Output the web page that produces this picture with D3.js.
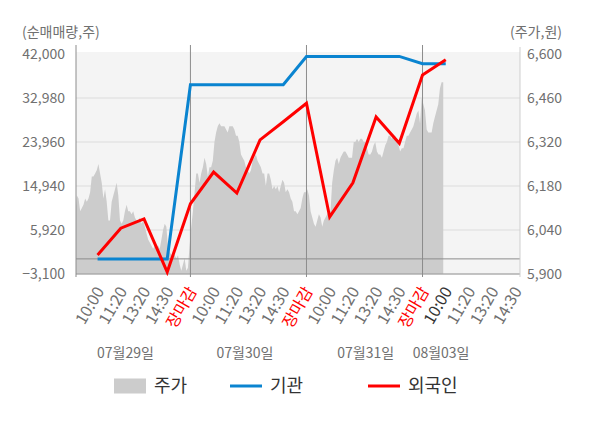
<!DOCTYPE html>
<html>
<head>
<meta charset="utf-8">
<script src="https://cdn.jsdelivr.net/npm/d3@7"></script>
<style>
    body { margin: 0; background: #fff; }
    svg { display: block; font-family: "Noto Sans CJK KR", "Noto Sans", sans-serif; }
</style>
</head>
<body>
<div id="chart"></div>
<script>
// 시간축 눈금 (하루 5칸, 마지막 날은 진행 중)
const tickLabels = ["10:00", "11:20", "13:20", "14:30", "장마감",
    "10:00", "11:20", "13:20", "14:30", "장마감",
    "10:00", "11:20", "13:20", "14:30", "장마감",
    "10:00", "11:20", "13:20", "14:30"];
const dayLabels = ["07월29일", "07월30일", "07월31일", "08월03일"];
const dayLabelSlots = [2.2, 7.35, 12.55, 15.8];

const leftTicks = [-3100, 5920, 14940, 23960, 32980, 42000];
const rightTicks = [5900, 6040, 6180, 6320, 6460, 6600];

// 순매매량 (눈금마다 한 점)
const institution = [0, 0, 0, 0, 35700, 35700, 35700, 35700, 35700, 41500,
    41500, 41500, 41500, 41500, 40000, 40000];
const foreigner = [800, 6300, 8200, -2700, 11300, 17800, 13500, 24400, 28100, 31900,
    8600, 15600, 29100, 23700, 37700, 40800];

// 주가 (분봉, 하루 70개 표본)
const samplesPerDay = 70;
const price0729 = [6080, 6150, 6140, 6100, 6110, 6120, 6140, 6130, 6140, 6160,
    6210, 6210, 6220, 6230, 6250, 6220, 6190, 6140, 6170, 6130,
    6070, 6070, 6130, 6150, 6170, 6190, 6150, 6070, 6060, 6070,
    6100, 6120, 6100, 6100, 6090, 6100, 6080, 6070, 6070, 6080,
    6060, 6070, 6050, 6030, 6010, 6000, 5990, 5980, 5990, 5990,
    5990, 5980, 6010, 6040, 6060, 6050, 5980, 5970, 5960, 5970,
    5960, 5950, 5960, 5930, 5910, 5930, 5950, 5910, 5920, 5990];
const price0730 = [6050, 6100, 6160, 6220, 6220, 6190, 6220, 6240, 6270, 6250,
    6210, 6240, 6240, 6260, 6320, 6350, 6370, 6380, 6370, 6370,
    6370, 6360, 6350, 6370, 6370, 6370, 6360, 6340, 6340, 6320,
    6280, 6270, 6260, 6240, 6230, 6220, 6230, 6260, 6270, 6280,
    6260, 6250, 6240, 6220, 6220, 6180, 6220, 6220, 6200, 6170,
    6180, 6170, 6180, 6160, 6180, 6200, 6190, 6160, 6170, 6160,
    6140, 6130, 6100, 6100, 6090, 6100, 6110, 6140, 6160, 6160];
const price0731 = [6170, 6150, 6100, 6080, 6060, 6050, 6070, 6090, 6080, 6050,
    6070, 6080, 6090, 6100, 6100, 6190, 6230, 6260, 6270, 6250,
    6270, 6280, 6290, 6290, 6280, 6270, 6270, 6270, 6320, 6320,
    6330, 6320, 6330, 6330, 6320, 6320, 6300, 6280, 6280, 6290,
    6310, 6320, 6290, 6280, 6280, 6270, 6290, 6310, 6320, 6340,
    6340, 6330, 6340, 6340, 6320, 6310, 6290, 6300, 6300, 6320,
    6340, 6340, 6350, 6360, 6370, 6390, 6410, 6420, 6380, 6460];
const price0803 = [6440, 6420, 6360, 6350, 6350, 6350, 6380, 6400, 6420, 6440,
    6490, 6510, 6510];

const margin = {top: 54, right: 80, bottom: 154, left: 76}
    , width = 600 - margin.left - margin.right
    , height = 428 - margin.top - margin.bottom;

const x = d3.scaleLinear().domain([0.07, 19.2]).range([0, width]);
const yL = d3.scaleLinear().domain([-3100, 42000]).range([height, 0]);
const yR = d3.scaleLinear().domain([5900, 6600]).range([height, 0]);

const priceSeries = [price0729, price0730, price0731, price0803]
    .flatMap((arr, d) => arr.map((v, i) => ({slot: d * 5 + (i + 0.5) * 5 / samplesPerDay, v: v})));
const flowSlot = i => i + 1;

const svg = d3.select("#chart").append("svg")
    .attr("width", 600)
    .attr("height", 428);

const g = svg.append("g")
    .attr("transform", `translate(${margin.left},${margin.top})`);

svg.append("defs").append("clipPath").attr("id", "plotClip")
    .append("rect").attr("width", width).attr("height", height + 1);

g.append("rect")
    .attr("y", -2)
    .attr("width", width)
    .attr("height", height + 2)
    .attr("fill", "#f4f4f4");

// 가로 격자
g.append("g").selectAll("line")
    .data(leftTicks.slice(0, -1))
    .enter().append("line")
    .attr("x1", 0).attr("x2", width)
    .attr("y1", d => yL(d)).attr("y2", d => yL(d))
    .attr("stroke", "#dcdcdc");

g.append("path")
    .datum(priceSeries)
    .attr("clip-path", "url(#plotClip)")
    .attr("fill", "#cccccc")
    .attr("d", d3.area()
        .x(d => x(d.slot))
        .y0(height)
        .y1(d => yR(d.v)));

g.append("line")
    .attr("x1", 0).attr("x2", width)
    .attr("y1", yL(0)).attr("y2", yL(0))
    .attr("stroke", "#8c8c8c");

g.append("line")
    .attr("x1", 0).attr("x2", width)
    .attr("y1", height).attr("y2", height)
    .attr("stroke", "#999");

// 날짜 구분선
const dividers = tickLabels.map((t, i) => ({t: t, slot: flowSlot(i)})).filter(d => d.t === "장마감");
g.append("g").selectAll("line")
    .data(dividers)
    .enter().append("line")
    .attr("x1", d => x(d.slot)).attr("x2", d => x(d.slot))
    .attr("y1", -9).attr("y2", height + 3)
    .attr("stroke", "#8c8c8c");

g.append("line")
    .attr("x1", 0).attr("x2", 0)
    .attr("y1", -9).attr("y2", height + 3)
    .attr("stroke", "#8c8c8c");

g.append("line")
    .attr("x1", width).attr("x2", width)
    .attr("y1", -7).attr("y2", height + 3)
    .attr("stroke", "#cfcfcf");

const line = d3.line()
    .x((d, i) => x(flowSlot(i)))
    .y(d => yL(d));

g.append("path")
    .datum(institution)
    .attr("fill", "none")
    .attr("stroke", "#0a84d0")
    .attr("stroke-width", 3)
    .attr("d", line);

g.append("path")
    .datum(foreigner)
    .attr("fill", "none")
    .attr("stroke", "#ff0000")
    .attr("stroke-width", 3)
    .attr("d", line);

// 축
const leftAxis = g.append("g")
    .call(d3.axisLeft(yL).tickValues(leftTicks).tickSize(0).tickPadding(11).tickFormat(d3.format(",")));
const rightAxis = g.append("g")
    .attr("transform", `translate(${width},0)`)
    .call(d3.axisRight(yR).tickValues(rightTicks).tickSize(0).tickPadding(7).tickFormat(d3.format(",")));
[leftAxis, rightAxis].forEach(a => {
    a.select(".domain").remove();
    a.selectAll("text")
        .attr("font-family", "Noto Sans CJK KR")
        .attr("font-size", 14)
        .attr("fill", "#707070");
});

g.append("text")
    .attr("x", -54).attr("y", -17)
    .attr("font-size", 14)
    .attr("fill", "#707070")
    .text("(순매매량,주)");

g.append("text")
    .attr("x", width + 42).attr("y", -17)
    .attr("text-anchor", "end")
    .attr("font-size", 14)
    .attr("fill", "#707070")
    .text("(주가,원)");

g.append("g").selectAll("text")
    .data(tickLabels)
    .enter().append("text")
    .attr("transform", (d, i) => `translate(${x(flowSlot(i)) + 7},${height + 17}) rotate(-60)`)
    .attr("text-anchor", "end")
    .attr("font-size", 16)
    .attr("fill", (d, i) => d === "장마감" ? "#ff0000" : (i === 15 ? "#333" : "#707070"))
    .text(d => d);

g.append("g").selectAll("text")
    .data(dayLabels)
    .enter().append("text")
    .attr("x", (d, i) => x(dayLabelSlots[i]))
    .attr("y", height + 84)
    .attr("text-anchor", "middle")
    .attr("font-size", 14)
    .attr("fill", "#707070")
    .text(d => d);

// 범례
const legendItems = [
    {name: "주가", color: "#cccccc", kind: "rect", x: 38},
    {name: "기관", color: "#0a84d0", kind: "line", x: 154},
    {name: "외국인", color: "#ff0000", kind: "line", x: 292}
];
const legend = g.append("g")
    .attr("transform", `translate(0,${height + 112})`)
    .selectAll("g")
    .data(legendItems)
    .enter().append("g")
    .attr("transform", d => `translate(${d.x},0)`);

legend.filter(d => d.kind === "rect").append("rect")
    .attr("y", -7.5)
    .attr("width", 32)
    .attr("height", 15)
    .attr("fill", d => d.color);

legend.filter(d => d.kind === "line").append("line")
    .attr("x1", 0).attr("x2", 32)
    .attr("stroke", d => d.color)
    .attr("stroke-width", 3);

legend.append("text")
    .attr("x", 40)
    .attr("dy", "0.36em")
    .attr("font-size", 18)
    .attr("fill", "#333")
    .text(d => d.name);
</script>
</body>
</html>
